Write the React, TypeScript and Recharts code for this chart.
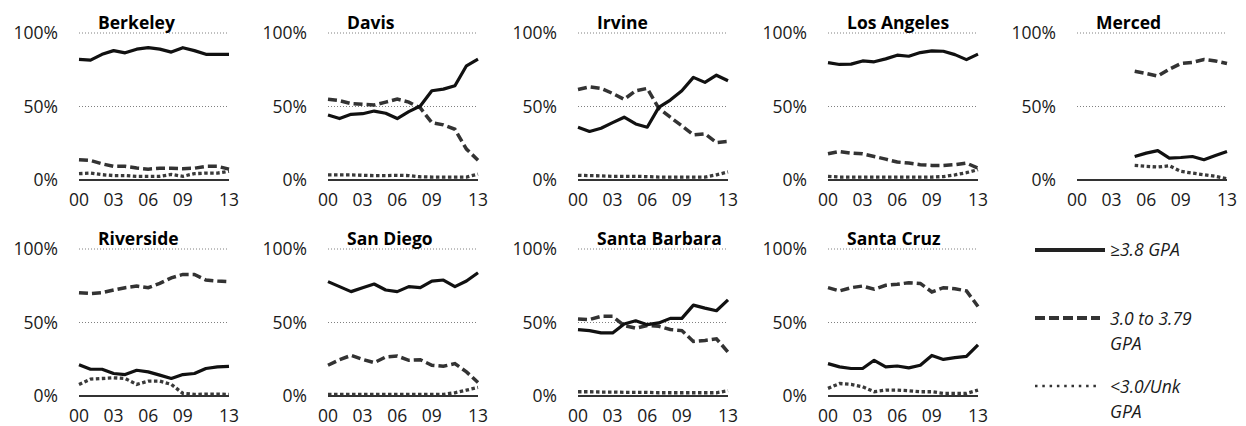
import { CartesianGrid, Line, LineChart, XAxis, YAxis } from 'recharts';

const YEARS = [2000, 2001, 2002, 2003, 2004, 2005, 2006, 2007, 2008, 2009, 2010, 2011, 2012, 2013];
const YEAR_TICKS = [2000, 2003, 2006, 2009, 2013];
const PCT_TICKS = [0, 50, 100];

const BERKELEY_HIGH = [82, 81.5, 85.5, 88, 86.5, 89, 90, 89, 87, 90, 88, 85.5, 85.5, 85.5];
const BERKELEY_MID = [13.8, 13.3, 11, 9.3, 9.3, 8.1, 7.4, 8, 8, 7.7, 8, 9.3, 9.3, 7.4];
const BERKELEY_LOW = [4.3, 4.7, 3.6, 3, 3, 2.5, 2.5, 2.5, 3.8, 2.5, 4.3, 4.7, 4.7, 5.9];

const DAVIS_HIGH = [44.2, 41.8, 44.7, 45.1, 46.9, 45.4, 41.8, 46.5, 50.3, 60.7, 61.8, 64.1, 77.7, 82.2];
const DAVIS_MID = [54.9, 54, 52, 51.5, 51, 53, 55, 53, 49, 39, 37.5, 34.5, 21, 13.5];
const DAVIS_LOW = [3.5, 3.5, 3.5, 3.2, 3, 3, 3.2, 3, 2.2, 2, 2, 2, 2, 4];

const IRVINE_HIGH = [35.9, 33, 35.2, 39, 42.7, 38.1, 35.9, 49.4, 54.4, 60.7, 69.8, 66.4, 71.3, 67.5];
const IRVINE_MID = [61.6, 63.4, 62.3, 58.9, 54.9, 60.7, 62.3, 48.8, 42.7, 36.8, 30.7, 31.4, 25.5, 26.2];
const IRVINE_LOW = [3.2, 3, 2.8, 2.5, 2.5, 2.5, 2.3, 2, 2, 2, 2, 2, 3.5, 5.5];

const LA_HIGH = [79.9, 78.6, 78.8, 81, 80.4, 82.4, 84.9, 84.2, 86.7, 87.8, 87.6, 85.3, 81.9, 85.6];
const LA_MID = [17.8, 19.4, 18.3, 17.8, 16, 14.2, 12.2, 11.5, 10.4, 9.9, 9.9, 10.4, 11.5, 8.1];
const LA_LOW = [2.5, 2, 2, 2, 2, 2, 2, 2, 2, 2, 2.3, 3.5, 5, 7];

// Merced opened in 2005, no data before that
const MERCED_HIGH = [null, null, null, null, null, 16, 18.3, 20, 14.9, 15.3, 16, 13.8, 16.7, 19.4];
const MERCED_MID = [null, null, null, null, null, 74, 72.5, 70.7, 75.4, 79.2, 80, 82, 81, 79.2];
const MERCED_LOW = [null, null, null, null, null, 9.9, 9.3, 8.8, 9.7, 5.9, 4.7, 3.6, 2.5, 0.9];

const RIVERSIDE_HIGH = [21.3, 18.2, 18.2, 15.3, 14.6, 17.5, 16.4, 14.2, 11.9, 14.6, 15.3, 18.7, 19.8, 20.2];
const RIVERSIDE_MID = [70.3, 69.7, 70.3, 72.1, 73.7, 74.8, 73.7, 76.6, 80.4, 82.7, 82.7, 78.9, 78.2, 77.8];
const RIVERSIDE_LOW = [7.9, 11.5, 11.9, 12.4, 11.9, 7.9, 10.1, 10.1, 7.9, 1.8, 1.1, 1.3, 1.3, 1.1];

const SAN_DIEGO_HIGH = [77.8, 74.4, 71, 73.7, 76.2, 72.1, 71, 74.4, 73.7, 78.2, 78.9, 74.4, 78.2, 83.8];
const SAN_DIEGO_MID = [20.9, 24.7, 27.6, 24.9, 22.7, 26.5, 27.2, 24.3, 24.7, 20.9, 20.2, 22, 16.4, 9.2];
const SAN_DIEGO_LOW = [1.1, 1.1, 1.1, 1.1, 1.1, 1.1, 1.1, 1.1, 1.1, 1.1, 1.1, 2.2, 4, 5.8];

const SANTA_BARBARA_HIGH = [45.2, 44.5, 42.9, 42.9, 49, 51.2, 48.5, 49.7, 52.8, 52.8, 61.8, 59.8, 58, 65.4];
const SANTA_BARBARA_MID = [52.4, 52, 54.2, 54.2, 47.9, 46.1, 47.9, 47.4, 45.2, 44.5, 37.1, 37.8, 38.9, 29.9];
const SANTA_BARBARA_LOW = [2.9, 2.9, 2.7, 2.7, 2.5, 2.5, 2.5, 2.2, 2.2, 2.2, 2.2, 2.2, 2.2, 3.6];

const SANTA_CRUZ_HIGH = [22, 19.8, 18.7, 18.7, 24.3, 19.8, 20.4, 19.1, 20.9, 27.6, 24.9, 26.1, 27, 34.8];
const SANTA_CRUZ_MID = [73.7, 71.5, 73.7, 74.8, 72.6, 75.3, 76, 77.1, 76.6, 70.8, 73.7, 73, 71.5, 60.9];
const SANTA_CRUZ_LOW = [5.2, 8.5, 7.9, 6.3, 2.9, 4, 4, 3.6, 2.9, 2.9, 1.8, 1.8, 1.8, 4];

const CAMPUSES = [
	{ name: 'Berkeley', high: BERKELEY_HIGH, mid: BERKELEY_MID, low: BERKELEY_LOW },
	{ name: 'Davis', high: DAVIS_HIGH, mid: DAVIS_MID, low: DAVIS_LOW },
	{ name: 'Irvine', high: IRVINE_HIGH, mid: IRVINE_MID, low: IRVINE_LOW },
	{ name: 'Los Angeles', high: LA_HIGH, mid: LA_MID, low: LA_LOW },
	{ name: 'Merced', high: MERCED_HIGH, mid: MERCED_MID, low: MERCED_LOW },
	{ name: 'Riverside', high: RIVERSIDE_HIGH, mid: RIVERSIDE_MID, low: RIVERSIDE_LOW },
	{ name: 'San Diego', high: SAN_DIEGO_HIGH, mid: SAN_DIEGO_MID, low: SAN_DIEGO_LOW },
	{ name: 'Santa Barbara', high: SANTA_BARBARA_HIGH, mid: SANTA_BARBARA_MID, low: SANTA_BARBARA_LOW },
	{ name: 'Santa Cruz', high: SANTA_CRUZ_HIGH, mid: SANTA_CRUZ_MID, low: SANTA_CRUZ_LOW },
];

const FONT = '"Open Sans", sans-serif';
const PLOT_LEFTS = [79, 328, 578, 828, 1077];
const PLOT_TOPS = [33, 249];
const Y_AXIS_W = 79;
const PANEL_W = 250;
const PANEL_H = 210;

const tickStyle = { fontFamily: FONT, fontSize: 17.5, fill: '#1a1a1a' };

function Panel({ campus, left, top }: { campus: (typeof CAMPUSES)[number]; left: number; top: number }) {
	const data = YEARS.map((year, i) => ({
		year,
		high: campus.high[i],
		mid: campus.mid[i],
		low: campus.low[i],
	}));

	return (
		<div style={{ position: 'absolute', left, top }}>
			<LineChart
				width={PANEL_W}
				height={PANEL_H}
				data={data}
				margin={{ top: 33, right: 21, bottom: 2, left: 0 }}
			>
				<CartesianGrid vertical={false} stroke="#808080" strokeDasharray="1 2" />
				<XAxis
					dataKey="year"
					type="number"
					domain={[2000, 2013]}
					ticks={YEAR_TICKS}
					tickFormatter={(v) => String(v).slice(2)}
					height={28}
					tickSize={0}
					tickMargin={14}
					tickLine={false}
					axisLine={{ stroke: '#333', strokeWidth: 2 }}
					tick={tickStyle}
					interval={0}
				/>
				<YAxis
					type="number"
					domain={[0, 100]}
					ticks={PCT_TICKS}
					tickFormatter={(v) => `${v}%`}
					width={Y_AXIS_W}
					tickSize={0}
					tickMargin={21}
					tickLine={false}
					axisLine={false}
					tick={tickStyle}
					interval={0}
				/>
				<Line
					dataKey="low"
					stroke="#3a3a3a"
					strokeWidth={3.3}
					strokeDasharray="3.5 2.5"
					dot={false}
					isAnimationActive={false}
				/>
				<Line
					dataKey="mid"
					stroke="#333"
					strokeWidth={3.5}
					strokeDasharray="9 4"
					dot={false}
					isAnimationActive={false}
				/>
				<Line
					dataKey="high"
					stroke="#111"
					strokeWidth={3.2}
					strokeLinejoin="round"
					dot={false}
					isAnimationActive={false}
				/>
			</LineChart>
		</div>
	);
}

export default function App() {
	return (
		<div style={{ position: 'absolute', left: 0, top: 0, width: 1246, height: 426, overflow: 'hidden', background: '#fff' }}>
			{CAMPUSES.map((c, i) => (
				<Panel
					key={c.name}
					campus={c}
					left={PLOT_LEFTS[i % 5] - Y_AXIS_W}
					top={PLOT_TOPS[Math.floor(i / 5)] - 33}
				/>
			))}
			{/* titles and legend sit on top of the charts */}
			<svg width={1246} height={426} style={{ position: 'absolute', left: 0, top: 0, pointerEvents: 'none' }}>
				{CAMPUSES.map((c, i) => (
					<text
						key={c.name}
						x={PLOT_LEFTS[i % 5] + 19}
						y={PLOT_TOPS[Math.floor(i / 5)] - 4}
						fontFamily={FONT}
						fontWeight={700}
						fontSize={17.5}
						fill="#000"
					>
						{c.name}
					</text>
				))}
				<g fontFamily={FONT} fontStyle="italic" fontSize={17.5} fill="#1a1a1a">
					<line x1={1035} x2={1105} y1={250} y2={250} stroke="#222" strokeWidth={4} />
					<text x={1110} y={256}>≥3.8 GPA</text>
					<line x1={1035} x2={1100} y1={318} y2={318} stroke="#333" strokeWidth={4} strokeDasharray="10 4" />
					<text x={1110} y={325}>3.0 to 3.79</text>
					<text x={1110} y={350}>GPA</text>
					<line x1={1035} x2={1100} y1={386} y2={386} stroke="#333" strokeWidth={2.5} strokeDasharray="2.5 4.8" />
					<text x={1110} y={393}>&lt;3.0/Unk</text>
					<text x={1110} y={418}>GPA</text>
				</g>
			</svg>
		</div>
	);
}
